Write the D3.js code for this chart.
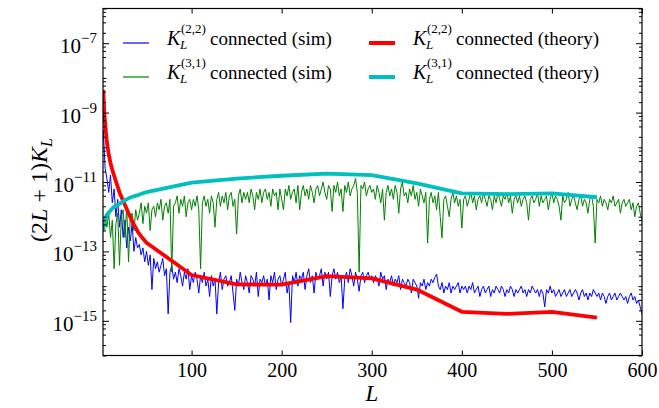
<!DOCTYPE html>
<html><head><meta charset="utf-8">
<script src="https://cdnjs.cloudflare.com/ajax/libs/d3/7.8.5/d3.min.js"></script>
<style>
body{margin:0;background:#fff}
svg text{font-family:"Liberation Serif","Liberation Sans",serif;fill:#000}
</style>
</head><body>
<svg id="chart" width="659" height="408"></svg>
<script>
// ---------------- DATA (log10 of (2L+1)K_L) ----------------
const simL = d3.range(2, 601, 2);   // multipoles of the simulated spectra
const sim22 = [
-9.5,-10.6,-10.9,-11.3,-10.8,-11.6,-11.2,-12.0,-11.5,-12.3,
-11.8,-12.6,-12.1,-12.9,-12.3,-12.7,-12.2,-13.0,-12.6,-12.9,
-12.8,-13.1,-12.9,-13.3,-13.0,-13.4,-13.1,-14.1,-13.2,-13.5,
-13.3,-13.6,-13.4,-13.2,-13.7,-13.5,-14.8,-13.6,-13.4,-13.8,
-13.6,-13.9,-13.5,-13.7,-14.0,-13.6,-13.8,-13.5,-14.1,-13.7,
-13.9,-13.6,-13.8,-14.2,-13.7,-13.9,-13.6,-14.0,-13.8,-14.3,
-13.7,-14.0,-13.8,-14.8,-13.9,-13.6,-14.1,-13.8,-13.7,-14.0,
-13.9,-13.7,-14.2,-14.7,-13.8,-14.0,-13.6,-13.9,-14.1,-13.7,
-13.9,-14.2,-13.7,-13.8,-14.0,-13.6,-14.3,-13.8,-13.9,-13.7,
-14.0,-13.8,-14.4,-13.7,-13.9,-13.6,-14.1,-13.8,-13.7,-14.0,
-13.8,-13.6,-14.2,-13.9,-15.05,-13.7,-13.9,-13.6,-14.0,-13.7,
-13.8,-13.6,-14.1,-13.7,-13.5,-13.9,-13.7,-14.2,-13.6,-13.8,
-13.7,-13.5,-14.0,-13.6,-13.8,-13.6,-14.3,-13.7,-13.5,-13.8,
-13.6,-13.9,-13.7,-14.65,-13.8,-13.6,-13.9,-13.5,-13.7,-14.0,
-13.6,-13.8,-14.15,-13.7,-13.6,-13.9,-13.7,-13.6,-13.8,-13.7,
-13.9,-13.7,-13.8,-14.0,-13.6,-13.8,-13.7,-14.1,-13.8,-13.9,
-13.7,-14.0,-13.8,-13.9,-13.7,-14.1,-13.8,-13.9,-14.0,-13.8,
-13.9,-14.2,-13.8,-13.9,-14.0,-14.35,-13.9,-14.0,-13.8,-14.1,
-13.9,-14.0,-13.8,-13.9,-13.75,-13.65,-14.0,-14.1,-13.9,-14.2,
-14.0,-14.1,-13.9,-14.2,-14.0,-14.1,-14.0,-13.9,-14.2,-14.0,
-14.1,-14.0,-14.2,-14.0,-14.1,-13.9,-14.2,-14.1,-14.0,-14.3,
-14.1,-14.0,-14.2,-14.1,-14.0,-14.3,-14.1,-14.2,-14.0,-14.1,
-14.2,-14.0,-14.1,-14.3,-14.1,-14.2,-14.0,-14.1,-14.3,-14.1,
-14.2,-14.1,-14.0,-14.2,-14.1,-14.3,-14.1,-14.2,-14.0,-14.1,
-14.2,-14.1,-14.3,-14.1,-14.2,-14.6,-14.1,-14.2,-14.0,-14.2,
-14.1,-14.3,-14.2,-14.1,-14.3,-14.2,-14.1,-14.3,-14.2,-14.1,
-14.3,-14.2,-14.1,-14.2,-14.4,-14.2,-14.1,-14.3,-14.2,-14.4,
-14.2,-14.3,-14.1,-14.2,-14.3,-14.2,-14.4,-14.2,-14.3,-14.5,
-14.3,-14.2,-14.4,-14.3,-14.2,-14.4,-14.3,-14.2,-14.3,-14.4,
-14.3,-14.5,-14.3,-14.2,-14.4,-14.3,-14.5,-14.4,-14.6,-14.8
];
const sim31 = [
-12.4,-12.0,-12.3,-11.9,-12.6,-12.1,-13.5,-12.2,-11.9,-13.4,
-12.0,-11.8,-12.6,-11.7,-13.3,-12.0,-11.9,-12.4,-11.8,-12.1,
-11.9,-11.6,-12.2,-11.7,-11.9,-11.6,-12.4,-11.8,-11.7,-12.0,
-11.6,-11.8,-11.5,-12.1,-11.7,-11.6,-11.9,-11.5,-13.6,-11.7,
-11.6,-11.4,-11.9,-11.5,-11.7,-11.4,-12.0,-11.6,-11.5,-11.8,
-11.5,-11.7,-11.4,-11.8,-13.5,-11.6,-11.4,-11.7,-11.5,-11.9,
-11.4,-11.6,-12.3,-11.5,-11.3,-11.7,-11.4,-11.6,-11.3,-11.8,
-11.4,-11.3,-11.7,-11.5,-12.5,-11.4,-11.2,-11.6,-11.3,-11.5,
-11.3,-11.6,-11.2,-11.4,-11.8,-11.3,-11.5,-11.2,-11.6,-11.3,
-11.2,-11.5,-11.3,-11.7,-11.2,-11.4,-11.3,-11.8,-11.2,-11.5,
-11.8,-11.2,-11.4,-11.1,-11.5,-11.3,-11.2,-11.6,-11.1,-11.8,
-11.3,-11.1,-11.4,-11.2,-11.5,-11.1,-11.3,-11.6,-11.2,-11.1,
-11.4,-11.2,-11.0,-11.3,-11.5,-11.1,-11.2,-11.85,-11.1,-11.3,
-11.0,-11.4,-11.2,-11.85,-11.1,-11.3,-11.0,-11.4,-11.2,-11.1,
-10.9,-11.3,-13.6,-11.1,-11.2,-11.0,-11.4,-11.2,-11.1,-11.3,
-11.2,-11.5,-11.1,-11.3,-11.6,-11.2,-12.1,-11.3,-11.1,-11.4,
-11.2,-11.5,-11.1,-11.3,-11.9,-11.2,-11.0,-11.4,-11.3,-11.6,
-11.2,-11.4,-11.1,-11.5,-11.3,-11.7,-11.2,-11.4,-11.6,-11.3,
-12.76,-11.5,-11.3,-11.6,-11.4,-11.8,-11.3,-12.0,-12.61,-11.5,
-11.4,-11.7,-12.0,-11.5,-11.3,-11.6,-11.4,-11.7,-11.5,-12.33,
-11.5,-11.4,-11.7,-11.5,-11.3,-11.6,-11.4,-11.8,-11.5,-11.4,
-11.6,-11.3,-11.5,-11.7,-11.4,-11.5,-11.8,-11.4,-11.6,-11.3,
-11.5,-11.7,-11.4,-11.5,-11.3,-11.6,-11.4,-11.9,-11.5,-11.4,
-11.6,-11.4,-11.7,-11.5,-11.4,-11.6,-12.1,-11.5,-11.4,-11.6,
-11.5,-11.3,-11.7,-11.4,-11.6,-11.5,-11.4,-11.8,-11.5,-11.3,
-11.6,-11.4,-11.5,-11.7,-12.1,-11.4,-11.6,-11.5,-11.3,-11.7,
-11.5,-11.4,-11.6,-11.8,-11.5,-11.4,-11.7,-11.5,-11.6,-11.9,
-11.5,-11.4,-11.7,-12.76,-11.5,-11.6,-11.4,-11.7,-11.5,-11.6,
-11.8,-11.5,-11.6,-11.4,-11.7,-11.6,-11.5,-11.9,-11.6,-11.5,
-11.7,-11.6,-11.5,-11.8,-11.6,-12.0,-11.7,-11.6,-11.9,-12.1
];
const theoryL = [2,3,4,5,6,8,10,12,15,20,25,30,35,40,45,50,100,150,200,250,300,350,400,450,500,550];
const theory22 = [-8.35,-8.95,-9.3,-9.6,-9.85,-10.2,-10.45,-10.65,-10.9,-11.3,-11.6,-11.9,-12.18,-12.42,-12.6,-12.75,
                  -13.68,-13.95,-13.96,-13.71,-13.78,-14.1,-14.74,-14.8,-14.74,-14.91];
const theory31 = [-12.4,-12.2,-12.08,-12.0,-11.95,-11.88,-11.82,-11.76,-11.7,-11.63,-11.54,-11.47,-11.42,-11.38,-11.33,-11.29,
                  -11.02,-10.9,-10.82,-10.76,-10.8,-11.04,-11.33,-11.35,-11.33,-11.44];
const xTicks = [100,200,300,400,500,600];
const yLabelExp = [-7,-9,-11,-13,-15];
const seriesNames = ["connected (sim)","connected (sim)","connected (theory)","connected (theory)"];
const seriesSup = ["(2,2)","(3,1)","(2,2)","(3,1)"];
const seriesColors = ["#0000ff","#008000","#ff0000","#00bfbf"];

// ---------------- LAYOUT ----------------
const FONT = '"Liberation Serif","Liberation Sans",serif';
const pL=103, pR=642, pT=8.5, pB=355.5;
const svg = d3.select("#chart");
const x = d3.scaleLinear().domain([2,600]).range([103.3,642]);
const y = d3.scaleLog().domain([1e-16,1e-6]).range([pB, pT]);

svg.append("defs").append("clipPath").attr("id","clip")
  .append("rect").attr("x",pL).attr("y",pT).attr("width",pR-pL).attr("height",pB-pT);

const line = d3.line().x(d=>x(d[0])).y(d=>y(Math.pow(10,d[1])));
const g = svg.append("g").attr("clip-path","url(#clip)");
const sets = [
  {xs:simL, ys:sim22, w:1},
  {xs:simL, ys:sim31, w:1},
  {xs:theoryL, ys:theory22, w:3.8},
  {xs:theoryL, ys:theory31, w:3.8}
];
sets.forEach((s,i)=>{
  g.append("path").datum(s.xs.map((l,j)=>[l,s.ys[j]]))
   .attr("d",line).attr("fill","none").attr("stroke",seriesColors[i])
   .attr("stroke-width",s.w).attr("stroke-linejoin","round");
});

// ---------------- AXES ----------------
const majorY = d3.range(-16,-5).map(e=>Math.pow(10,e));
const minorY = [];
d3.range(-16,-6).forEach(e=>[2,4,6,8].forEach(m=>minorY.push(m*Math.pow(10,e))));
const labY = yLabelExp.map(e=>Math.pow(10,e));
const otherMajor = majorY.filter(v=>!labY.some(u=>Math.abs(Math.log10(u)-Math.log10(v))<1e-6));

function styleAxis(sel){
  sel.select(".domain").remove();
  sel.selectAll("line").attr("stroke","#000").attr("stroke-width",1);
}
// bottom
svg.append("g").attr("transform",`translate(0,${pB})`)
  .call(d3.axisBottom(x).tickValues(xTicks).tickSizeInner(-5).tickSizeOuter(0).tickPadding(7).tickFormat(d3.format("d")))
  .call(styleAxis)
  .call(s=>{s.attr("font-family",null).attr("font-size",null);
            s.selectAll("text").style("font-family",FONT).attr("font-size",20).attr("fill","#000");});
// top
svg.append("g").attr("transform",`translate(0,${pT})`)
  .call(d3.axisTop(x).tickValues(xTicks).tickSizeInner(-5).tickSizeOuter(0).tickFormat(""))
  .call(styleAxis);
// left and right
[[pL, d3.axisLeft],[pR, d3.axisRight]].forEach(([px, ax])=>{
  svg.append("g").attr("transform",`translate(${px},0)`)
    .call(ax(y).tickValues(labY).tickSizeInner(-6).tickSizeOuter(0).tickFormat(""))
    .call(styleAxis);
  svg.append("g").attr("transform",`translate(${px},0)`)
    .call(ax(y).tickValues(otherMajor).tickSizeInner(-3.5).tickSizeOuter(0).tickFormat(""))
    .call(styleAxis);
  svg.append("g").attr("transform",`translate(${px},0)`)
    .call(ax(y).tickValues(minorY).tickSizeInner(-3).tickSizeOuter(0).tickFormat(""))
    .call(styleAxis);
});
// y tick labels 10^n
yLabelExp.forEach(e=>{
  const t = svg.append("text").attr("x",pL-6).attr("y",y(Math.pow(10,e))+10)
    .attr("text-anchor","end").attr("font-size",21).style("font-family",FONT);
  t.append("tspan").text("10");
  t.append("tspan").attr("dy",-10).attr("font-size",15).text("\u2212"+Math.abs(e));
});
// frame
svg.append("rect").attr("x",pL).attr("y",pT).attr("width",pR-pL).attr("height",pB-pT)
  .attr("fill","none").attr("stroke","#000").attr("stroke-width",1.2);

// axis titles
svg.append("text").attr("x",372).attr("y",401).attr("text-anchor","middle").style("font-family",FONT)
  .attr("font-size",23).attr("font-style","italic").text("L");
const yl = svg.append("text").attr("transform","translate(47,190) rotate(-90)").attr("text-anchor","middle")
  .attr("font-size",24).style("font-family",FONT);
yl.append("tspan").text("(2");
yl.append("tspan").attr("font-style","italic").text("L");
yl.append("tspan").text(" + 1)");
yl.append("tspan").attr("font-style","italic").text("K");
yl.append("tspan").attr("font-style","italic").attr("font-size",16).attr("dy",5).text("L");

// ---------------- LEGEND ----------------
const legCols = [{lx:123, tx:167}, {lx:369, tx:413}];
const legRows = [43, 77];
seriesNames.forEach((name,i)=>{
  const c = legCols[Math.floor(i/2)], ry = legRows[i%2];
  svg.append("line").attr("x1",c.lx).attr("x2",c.lx+26).attr("y1",ry).attr("y2",ry)
    .attr("stroke",seriesColors[i]).attr("stroke-width", i<2?1.2:4);
  svg.append("text").attr("x",c.tx).attr("y",ry+2).attr("font-size",20).attr("font-style","italic").style("font-family",FONT).text("K");
  svg.append("text").attr("x",c.tx+14).attr("y",ry-10).attr("font-size",13).style("font-family",FONT).text(seriesSup[i]);
  svg.append("text").attr("x",c.tx+13).attr("y",ry+6).attr("font-size",13).attr("font-style","italic").style("font-family",FONT).text("L");
  svg.append("text").attr("x",c.tx+43).attr("y",ry+2).attr("font-size",19).style("font-family",FONT).text(name);
});
</script>
</body></html>
